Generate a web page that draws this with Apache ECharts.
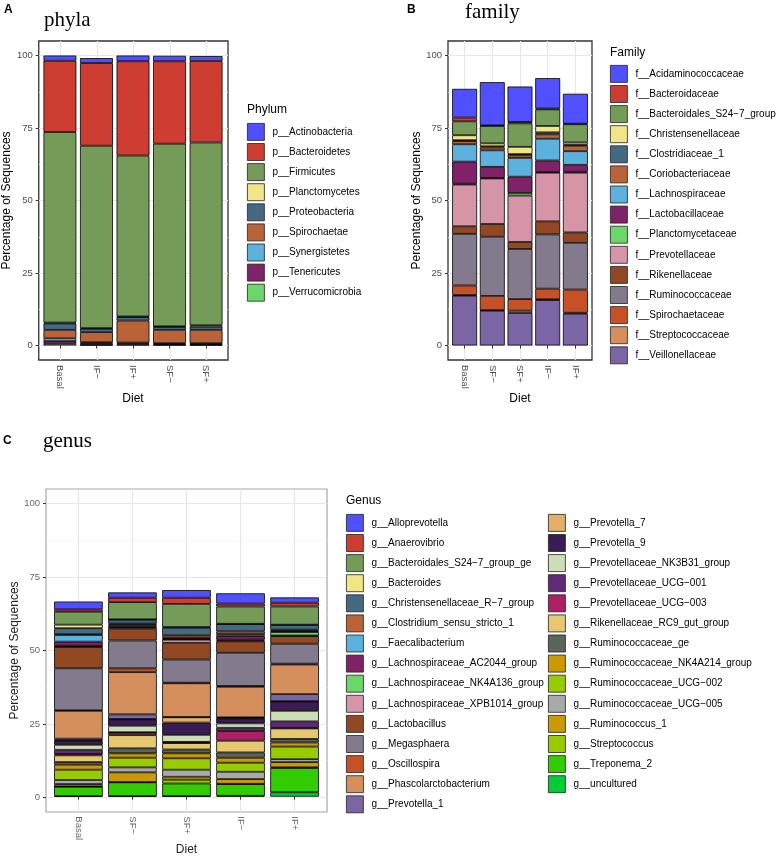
<!DOCTYPE html>
<html>
<head>
<meta charset="utf-8">
<script src="https://cdn.jsdelivr.net/npm/echarts@6/dist/echarts.min.js"></script>
<style>
  html, body { margin: 0; background: #fff; }
  #main { width: 777px; height: 857px; }
</style>
</head>
<body>
<div id="main"></div>
<script>
// igv palette (ggsci), same order as the legends
const palette = ['#5050FF', '#CE3D32', '#749B58', '#F0E685', '#466983', '#BA6338', '#5DB1DD',
  '#802268', '#6BD76B', '#D595A7', '#924822', '#837B8D', '#C75127', '#D58F5C', '#7A65A5',
  '#E4AF69', '#3B1B53', '#CDDEB7', '#612A79', '#AE1F63', '#E7C76F', '#5A655E', '#CC9900',
  '#99CC00', '#A9A9A9', '#CC9900', '#99CC00', '#33CC00', '#00CC33'];

const yTicks = [0, 25, 50, 75, 100];
const yMinorTicks = [12.5, 37.5, 62.5, 87.5];

// ---- A: phyla ----
const phylaDiets = ['Basal', 'IF−', 'IF+', 'SF−', 'SF+'];
const phylaNames = ['p__Actinobacteria', 'p__Bacteroidetes', 'p__Firmicutes', 'p__Planctomycetes',
  'p__Proteobacteria', 'p__Spirochaetae', 'p__Synergistetes', 'p__Tenericutes', 'p__Verrucomicrobia'];
const phylaValues = [
  [1.8, 1.7, 2.0, 1.9, 1.7],
  [24.6, 28.5, 32.5, 28.4, 28.1],
  [65.7, 62.9, 55.5, 63.0, 63.0],
  [0.3, 0.2, 0.2, 0.2, 0.5],
  [2.2, 1.2, 1.2, 1.0, 1.1],
  [2.9, 3.5, 7.6, 4.6, 4.6],
  [1.0, 0.3, 0.3, 0.3, 0.4],
  [0.9, 0.6, 0.4, 0.3, 0.2],
  [0.6, 0.2, 0.3, 0.2, 0.2]
];

// ---- B: family ----
const familyDiets = ['Basal', 'SF−', 'SF+', 'IF−', 'IF+'];
const familyNames = ['f__Acidaminococcaceae', 'f__Bacteroidaceae', 'f__Bacteroidales_S24−7_group',
  'f__Christensenellaceae', 'f__Clostridiaceae_1', 'f__Coriobacteriaceae', 'f__Lachnospiraceae',
  'f__Lactobacillaceae', 'f__Planctomycetaceae', 'f__Prevotellaceae', 'f__Rikenellaceae',
  'f__Ruminococcaceae', 'f__Spirochaetaceae', 'f__Streptococcaceae', 'f__Veillonellaceae'];
const familyValues = [
  [9.9, 14.9, 12.2, 10.5, 10.3],
  [1.3, 0.2, 0.5, 0.3, 0.2],
  [4.8, 6.0, 8.1, 5.7, 6.3],
  [1.7, 1.0, 2.5, 2.2, 0.8],
  [0.3, 0.4, 0.4, 0.7, 0.3],
  [1.1, 1.0, 0.9, 1.5, 1.9],
  [6.0, 5.7, 6.5, 7.5, 4.7],
  [7.6, 3.8, 5.6, 4.0, 2.4],
  [0.3, 0.2, 0.9, 0.2, 0.3],
  [14.4, 15.7, 16.0, 16.8, 20.6],
  [2.6, 4.4, 2.4, 4.5, 3.6],
  [17.8, 20.4, 17.3, 18.7, 16.1],
  [3.3, 4.9, 4.0, 3.7, 8.0],
  [0.2, 0.2, 0.8, 0.2, 0.3],
  [17.2, 12.0, 11.2, 15.7, 11.0]
];

// ---- C: genus ----
const genusDiets = ['Basal', 'SF−', 'SF+', 'IF−', 'IF+'];
const genusNames = ['g__Alloprevotella', 'g__Anaerovibrio', 'g__Bacteroidales_S24−7_group_ge',
  'g__Bacteroides', 'g__Christensenellaceae_R−7_group', 'g__Clostridium_sensu_stricto_1',
  'g__Faecalibacterium', 'g__Lachnospiraceae_AC2044_group', 'g__Lachnospiraceae_NK4A136_group',
  'g__Lachnospiraceae_XPB1014_group', 'g__Lactobacillus', 'g__Megasphaera', 'g__Oscillospira',
  'g__Phascolarctobacterium', 'g__Prevotella_1', 'g__Prevotella_7', 'g__Prevotella_9',
  'g__Prevotellaceae_NK3B31_group', 'g__Prevotellaceae_UCG−001', 'g__Prevotellaceae_UCG−003',
  'g__Rikenellaceae_RC9_gut_group', 'g__Ruminococcaceae_ge', 'g__Ruminococcaceae_NK4A214_group',
  'g__Ruminococcaceae_UCG−002', 'g__Ruminococcaceae_UCG−005', 'g__Ruminococcus_1',
  'g__Streptococcus', 'g__Treponema_2', 'g__uncultured'];
const genusValues = [
  [2.7, 1.8, 2.6, 3.5, 1.8],
  [0.8, 1.5, 2.1, 1.0, 1.3],
  [4.4, 5.9, 7.9, 5.9, 6.2],
  [1.2, 0.1, 0.2, 0.1, 0.1],
  [2.1, 1.3, 2.6, 2.5, 1.6],
  [0.2, 0.3, 0.8, 0.9, 0.3],
  [2.3, 0.3, 0.3, 0.7, 0.3],
  [1.4, 0.6, 0.2, 1.2, 0.2],
  [0.2, 0.2, 0.2, 0.3, 1.2],
  [0.2, 0.3, 1.1, 0.3, 0.2],
  [7.3, 4.1, 5.7, 3.9, 2.6],
  [14.3, 9.5, 7.9, 11.3, 6.8],
  [0.2, 1.3, 0.2, 0.3, 0.3],
  [9.5, 14.4, 11.5, 10.4, 10.1],
  [0.6, 1.6, 0.1, 0.2, 2.4],
  [0.2, 0.1, 1.8, 0.2, 0.1],
  [1.3, 2.2, 4.2, 1.7, 3.2],
  [1.7, 2.2, 2.4, 1.5, 3.6],
  [1.4, 0.1, 0.2, 1.1, 2.2],
  [0.5, 0.9, 0.2, 3.3, 0.2],
  [2.3, 4.5, 2.2, 4.0, 3.6],
  [0.9, 1.7, 1.3, 1.8, 1.2],
  [1.7, 1.5, 1.7, 1.7, 1.4],
  [3.5, 3.3, 3.9, 3.1, 4.3],
  [1.4, 1.7, 2.4, 2.5, 1.0],
  [0.8, 3.3, 1.0, 1.6, 1.8],
  [0.1, 0.1, 1.3, 0.1, 0.2],
  [3.2, 4.7, 4.3, 4.0, 8.3],
  [0.2, 0.2, 0.2, 0.3, 1.5]
];

const SANS = 'Liberation Sans, Arial, Helvetica, sans-serif';
const SERIF = 'Liberation Serif, Times New Roman, serif';

const panels = [
  { stack: 'A', diets: phylaDiets, names: phylaNames, values: phylaValues,
    frame: { left: 38, top: 41, width: 190, height: 319 }, border: '#333', borderWidth: 1.3,
    labelColor: '#4d4d4d', titleColor: '#000',
    legends: [{ left: 247, top: 123, from: 0, to: 9 }] },
  { stack: 'B', diets: familyDiets, names: familyNames, values: familyValues,
    frame: { left: 448, top: 41, width: 144, height: 319 }, border: '#333', borderWidth: 1.3,
    labelColor: '#4d4d4d', titleColor: '#000',
    legends: [{ left: 610, top: 65, from: 0, to: 15 }] },
  { stack: 'C', diets: genusDiets, names: genusNames, values: genusValues,
    frame: { left: 46, top: 489, width: 281, height: 323 }, border: '#a6a6a6', borderWidth: 1.2,
    labelColor: '#666', titleColor: '#222',
    legends: [{ left: 346, top: 514, from: 0, to: 15 }, { left: 548, top: 514, from: 15, to: 29 }] }
];

const grid = [], xAxis = [], yAxis = [], series = [], legend = [];

panels.forEach(p => {
  const f = p.frame;
  const unit = f.width / (p.diets.length + 0.2); // ggplot pads 0.6 of a category each side
  const centres = p.diets.map((d, i) => i + 1);

  // frame grid: border, grid lines, y labels
  const gFrame = grid.length;
  grid.push({ left: f.left, top: f.top, width: f.width, height: f.height, show: true,
    borderColor: p.border, borderWidth: p.borderWidth, backgroundColor: '#fff' });
  // data grid: bars, inset by 0.1 category each side
  const gData = grid.length;
  grid.push({ left: f.left + 0.1 * unit, top: f.top, width: p.diets.length * unit, height: f.height });

  xAxis.push({ gridIndex: gFrame, type: 'value', min: 0.4, max: p.diets.length + 0.6,
    axisLine: { show: false }, axisLabel: { show: false },
    axisTick: { show: false, customValues: centres },
    splitLine: { show: true, lineStyle: { color: '#e6e6e6', width: 1.2 } } });
  const xData = xAxis.length;
  xAxis.push({ gridIndex: gData, type: 'category', data: p.diets, boundaryGap: true,
    axisLine: { show: false },
    axisTick: { show: true, alignWithLabel: true, length: 3, lineStyle: { color: '#333', width: 1 } },
    axisLabel: { rotate: -90, margin: 5, fontSize: 9.5, color: p.labelColor, fontFamily: SANS },
    splitLine: { show: false },
    name: 'Diet', nameLocation: 'middle', nameGap: 32,
    nameTextStyle: { fontSize: 12, color: p.titleColor, fontFamily: SANS } });

  yAxis.push({ gridIndex: gFrame, type: 'value', min: -5, max: 105, position: 'left',
    axisLine: { show: false },
    axisTick: { show: true, length: 3, customValues: yTicks, lineStyle: { color: '#333', width: 1 } },
    axisLabel: { customValues: yTicks, margin: 6, fontSize: 9.5, color: p.labelColor, fontFamily: SANS },
    splitLine: { show: true, lineStyle: { color: '#e6e6e6', width: 1.2 } },
    name: 'Percentage of Sequences', nameLocation: 'middle', nameGap: 24,
    nameTextStyle: { fontSize: 12, color: p.titleColor, fontFamily: SANS } });
  yAxis.push({ gridIndex: gFrame, type: 'value', min: -5, max: 105, position: 'right',
    axisLine: { show: false }, axisLabel: { show: false },
    axisTick: { show: false, customValues: yMinorTicks },
    splitLine: { show: true, lineStyle: { color: '#f3f3f3', width: 0.7 } } });
  const yData = yAxis.length;
  yAxis.push({ gridIndex: gData, type: 'value', min: -5, max: 105, show: false });

  // ggplot stacks the first level on top, so add series bottom-up
  for (let k = p.names.length - 1; k >= 0; k--) {
    series.push({
      name: p.names[k], type: 'bar', stack: p.stack,
      xAxisIndex: xData, yAxisIndex: yData,
      barWidth: '90%', data: p.values[k],
      itemStyle: { color: palette[k], borderColor: '#000', borderWidth: 0.8 },
      emphasis: { disabled: true }
    });
  }

  p.legends.forEach(l => {
    legend.push({
      data: p.names.slice(l.from, l.to), orient: 'vertical', left: l.left, top: l.top,
      padding: 0, itemWidth: 17, itemHeight: 17, itemGap: 2.3, icon: 'rect',
      selectedMode: false,
      itemStyle: { borderColor: '#222', borderWidth: 0.8 },
      textStyle: { fontSize: 10, color: '#000', fontFamily: SANS, padding: [0, 0, 0, 3] }
    });
  });
});

const heading = (text, left, top, size, family, weight) => ({
  text, left, top, padding: 0,
  textStyle: { fontSize: size, fontFamily: family, fontWeight: weight, color: '#000' }
});

const option = {
  animation: false,
  backgroundColor: '#fff',
  title: [
    heading('A', 4, 4, 12, SANS, 'bold'),
    heading('phyla', 44, 10, 21, SERIF, 'normal'),
    heading('Phylum', 247, 104, 12, SANS, 'normal'),
    heading('B', 407, 4, 12, SANS, 'bold'),
    heading('family', 465, 2, 21, SERIF, 'normal'),
    heading('Family', 610, 47, 12, SANS, 'normal'),
    heading('C', 3, 435, 12, SANS, 'bold'),
    heading('genus', 43, 431, 21, SERIF, 'normal'),
    heading('Genus', 346, 495, 12, SANS, 'normal')
  ],
  grid, xAxis, yAxis, series, legend
};

const chart = echarts.init(document.getElementById('main'));
chart.setOption(option);
</script>
</body>
</html>
